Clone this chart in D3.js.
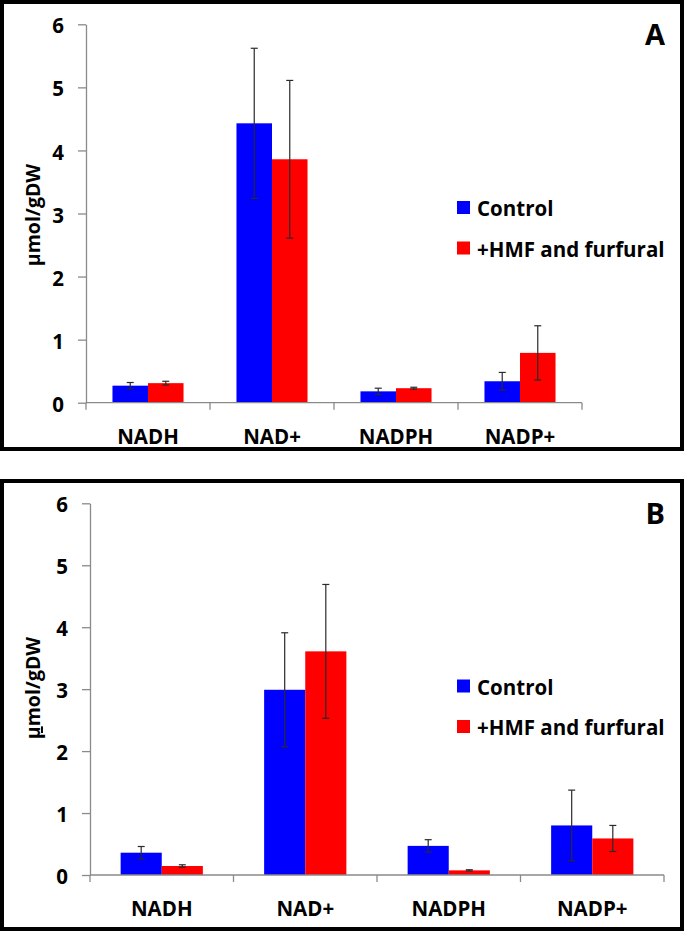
<!DOCTYPE html>
<html>
<head>
<meta charset="utf-8">
<script src="https://cdn.jsdelivr.net/npm/d3@7"></script>
<style>
  html, body { margin: 0; padding: 0; background: #fff; }
  svg { display: block; }
  text { font-family: "Open Sans", "Noto Sans", sans-serif; font-weight: bold; fill: #000; }
</style>
</head>
<body>
<svg id="chart" width="685" height="933"></svg>
<script>
// ---- data ----
const categories = ["NADH", "NAD+", "NADPH", "NADP+"];
const seriesNames = ["Control", "+HMF and furfural"];
const seriesColors = ["#0000FF", "#FF0000"];
const yTicks = [0, 1, 2, 3, 4, 5, 6];

// Panel A
const controlA    = [0.27, 4.43, 0.18, 0.34];
const controlAErr = [0.05, 1.19, 0.05, 0.14];
const treatedA    = [0.31, 3.86, 0.23, 0.79];
const treatedAErr = [0.03, 1.25, 0.015, 0.43];

// Panel B
const controlB    = [0.36, 2.99, 0.47, 0.80];
const controlBErr = [0.10, 0.92, 0.10, 0.57];
const treatedB    = [0.145, 3.61, 0.075, 0.59];
const treatedBErr = [0.02, 1.08, 0.01, 0.21];

const panels = [
  { label: "A", values: [controlA, treatedA], errors: [controlAErr, treatedAErr],
    box: { x: 2, y: 2, w: 680, h: 447 }, x0: 86, x1: 582, yTop: 24.3, yBot: 402.7,
    legendY: 201, titleY: 215, labelY: 45, underlineMu: false },
  { label: "B", values: [controlB, treatedB], errors: [controlBErr, treatedBErr],
    box: { x: 2, y: 481, w: 680, h: 448 }, x0: 90, x1: 664, yTop: 503.3, yBot: 875,
    legendY: 679.5, titleY: 688, labelY: 524, underlineMu: true }
];

const svg = d3.select("#chart");

panels.forEach(p => {
  const g = svg.append("g");

  // frame
  g.append("rect")
    .attr("x", p.box.x).attr("y", p.box.y)
    .attr("width", p.box.w).attr("height", p.box.h)
    .attr("fill", "#fff").attr("stroke", "#000").attr("stroke-width", 4);

  const x = d3.scaleBand().domain(categories).range([p.x0, p.x1]).padding(0);
  const xs = d3.scaleBand().domain(seriesNames).range([0, x.bandwidth()])
    .paddingInner(0).paddingOuter(0.745);
  const y = d3.scaleLinear().domain([0, 6]).range([p.yBot, p.yTop]);

  // y axis
  const yAxis = g.append("g")
    .attr("transform", `translate(${p.x0},0)`)
    .call(d3.axisLeft(y).tickValues(yTicks).tickFormat(d3.format("d"))
      .tickSize(8).tickSizeOuter(0).tickPadding(14));
  yAxis.select(".domain").attr("stroke", "#8a8a8a").attr("stroke-width", 1.3);
  yAxis.selectAll(".tick line").attr("stroke", "#8a8a8a").attr("stroke-width", 1.3);
  yAxis.selectAll(".tick text")
    .attr("font-size", 20.5).attr("font-family", "'Open Sans', sans-serif")
    .attr("font-weight", "bold").attr("fill", "#000").attr("dy", "0.42em");

  // bars
  seriesNames.forEach((s, si) => {
    g.append("g").selectAll("rect")
      .data(categories)
      .join("rect")
      .attr("x", c => x(c) + xs(s))
      .attr("y", (c, i) => y(p.values[si][i]))
      .attr("width", xs.bandwidth())
      .attr("height", (c, i) => y(0) - y(p.values[si][i]))
      .attr("fill", seriesColors[si]);
  });

  // error bars
  seriesNames.forEach((s, si) => {
    const eg = g.append("g").attr("stroke", "#2a2a2a").attr("stroke-width", 1.2);
    categories.forEach((c, i) => {
      const cx = x(c) + xs(s) + xs.bandwidth() / 2;
      const v = p.values[si][i], e = p.errors[si][i];
      eg.append("line").attr("x1", cx).attr("x2", cx).attr("y1", y(v + e)).attr("y2", y(v - e));
      eg.append("line").attr("x1", cx - 3.5).attr("x2", cx + 3.5).attr("y1", y(v + e)).attr("y2", y(v + e));
      eg.append("line").attr("x1", cx - 3.5).attr("x2", cx + 3.5).attr("y1", y(v - e)).attr("y2", y(v - e));
    });
  });

  // x axis (ticks at category boundaries)
  const xg = g.append("g");
  xg.append("line")
    .attr("x1", p.x0).attr("x2", p.x1).attr("y1", y(0)).attr("y2", y(0))
    .attr("stroke", "#8a8a8a").attr("stroke-width", 1.3);
  const bounds = categories.map(c => x(c)).concat([x.range()[1]]);
  xg.selectAll("line.tk").data(bounds).join("line").attr("class", "tk")
    .attr("x1", d => d).attr("x2", d => d)
    .attr("y1", y(0)).attr("y2", y(0) + 7)
    .attr("stroke", "#8a8a8a").attr("stroke-width", 1.3);
  xg.selectAll("text").data(categories).join("text")
    .attr("x", c => x(c) + x.bandwidth() / 2)
    .attr("y", y(0) + 41)
    .attr("text-anchor", "middle")
    .attr("font-size", 20.5)
    .text(c => c);

  // y title
  const title = g.append("text")
    .attr("transform", `translate(40,${p.titleY}) rotate(-90)`)
    .attr("text-anchor", "middle")
    .attr("font-size", 19.5);
  const mu = title.append("tspan").text("μ");
  if (p.underlineMu) mu.attr("text-decoration", "underline");
  title.append("tspan").text("mol/gDW");

  // legend
  seriesNames.forEach((s, si) => {
    const ly = p.legendY + si * 40.5;
    g.append("rect").attr("x", 457).attr("y", ly).attr("width", 13).attr("height", 13)
      .attr("fill", seriesColors[si]);
    g.append("text").attr("x", 477).attr("y", ly + 15).attr("font-size", 20.5).text(s);
  });

  // panel label
  g.append("text")
    .attr("x", 665).attr("y", p.labelY)
    .attr("text-anchor", "end")
    .attr("font-family", "'Liberation Sans', Arial, sans-serif")
    .attr("font-size", 29)
    .text(p.label);
});
</script>
</body>
</html>
